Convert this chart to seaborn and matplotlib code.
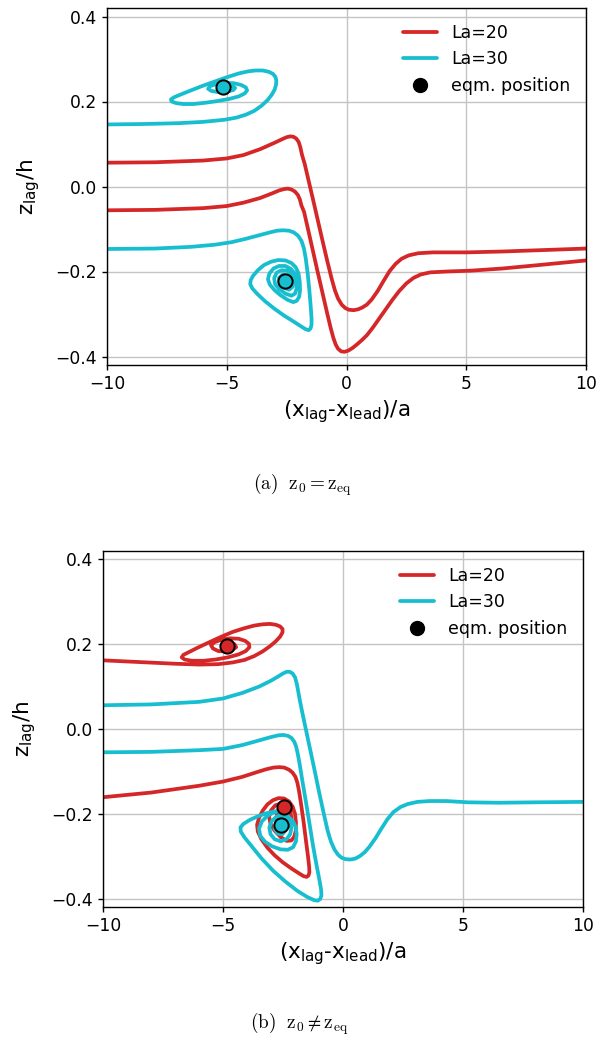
import numpy as np
import pandas as pd
import matplotlib
matplotlib.use("Agg")
import matplotlib.pyplot as plt
from matplotlib.lines import Line2D
import seaborn as sns

# ---------------- data ----------------
SERIES_LABELS = ["La=20", "La=30"]
EQM_LABEL = "eqm. position"
X_TICKS = [-10, -5, 0, 5, 10]
Y_TICKS = [-0.4, -0.2, 0.0, 0.2, 0.4]
CAPTIONS = [r"$\mathrm{(a)}\ \ \mathrm{z}_0=\mathrm{z}_{\mathrm{eq}}$",
            r"$\mathrm{(b)}\ \ \mathrm{z}_0\neq\mathrm{z}_{\mathrm{eq}}$"]

# panel (a)  La=20 trajectories
A_LA20_UPPER = [(-10, 0.056), (-8, 0.057), (-6, 0.061), (-5, 0.066), (-4.3, 0.074), (-3.6, 0.088),
                (-3.0, 0.103), (-2.7, 0.111), (-2.5, 0.116), (-2.35, 0.118), (-2.22, 0.117),
                (-2.1, 0.113), (-2.0, 0.105), (-1.93, 0.093), (-1.86, 0.075), (-1.74, 0.052),
                (-1.6, 0.018), (-1.4, -0.03), (-1.2, -0.079), (-1.0, -0.128), (-0.8, -0.176),
                (-0.62, -0.217), (-0.48, -0.245), (-0.35, -0.264), (-0.2, -0.278), (-0.05, -0.286),
                (0.1, -0.29), (0.3, -0.291), (0.48, -0.289), (0.65, -0.285), (0.85, -0.278),
                (1.05, -0.266), (1.3, -0.246), (1.55, -0.222), (1.8, -0.199), (2.05, -0.182),
                (2.3, -0.17), (2.6, -0.162), (3.0, -0.157), (3.6, -0.155), (5.0, -0.155),
                (6.5, -0.153), (8.0, -0.150), (10, -0.146)]
A_LA20_LOWER = [(-10, -0.056), (-8, -0.055), (-6, -0.051), (-5, -0.046), (-4.3, -0.038), (-3.6, -0.027),
                (-3.1, -0.016), (-2.8, -0.009), (-2.6, -0.006), (-2.45, -0.005), (-2.3, -0.007),
                (-2.15, -0.012), (-2.03, -0.02), (-1.95, -0.03), (-1.88, -0.045), (-1.77, -0.06),
                (-1.6, -0.102), (-1.4, -0.152), (-1.2, -0.202), (-1.0, -0.251), (-0.8, -0.3),
                (-0.66, -0.333), (-0.55, -0.356), (-0.45, -0.372), (-0.35, -0.382), (-0.22, -0.388),
                (-0.08, -0.389), (0.08, -0.386), (0.25, -0.38), (0.45, -0.371), (0.65, -0.361),
                (0.85, -0.35), (1.1, -0.332), (1.35, -0.312), (1.6, -0.292), (1.9, -0.268),
                (2.2, -0.246), (2.5, -0.228), (2.8, -0.215), (3.1, -0.207), (3.5, -0.202),
                (4.2, -0.2), (5.2, -0.198), (6.5, -0.193), (8.0, -0.185), (10, -0.174)]
# panel (a)  La=30 trajectories
A_LA30_UPPER = [(-10, 0.146), (-8.5, 0.147), (-7, 0.149), (-6, 0.152), (-5.1, 0.157), (-4.6, 0.162),
                (-4.2, 0.169), (-3.85, 0.178), (-3.55, 0.19), (-3.3, 0.203), (-3.12, 0.216),
                (-3.0, 0.228), (-2.94, 0.24), (-2.93, 0.25), (-2.97, 0.258), (-3.07, 0.265),
                (-3.25, 0.27), (-3.5, 0.273), (-3.8, 0.273), (-4.1, 0.271), (-4.5, 0.266),
                (-5.0, 0.257), (-5.5, 0.247), (-6.0, 0.237), (-6.5, 0.226), (-6.9, 0.217),
                (-7.2, 0.21), (-7.33, 0.205), (-7.3, 0.2), (-7.1, 0.196), (-6.8, 0.194),
                (-6.4, 0.194), (-5.9, 0.197), (-5.4, 0.201), (-4.9, 0.206), (-4.5, 0.212),
                (-4.25, 0.219), (-4.15, 0.226), (-4.2, 0.233), (-4.4, 0.239), (-4.7, 0.243),
                (-5.1, 0.244), (-5.45, 0.241), (-5.7, 0.236), (-5.78, 0.23), (-5.65, 0.225),
                (-5.35, 0.222), (-5.0, 0.223), (-4.72, 0.227), (-4.65, 0.232), (-4.8, 0.237),
                (-5.05, 0.238), (-5.3, 0.235), (-5.35, 0.231), (-5.2, 0.229), (-5.1, 0.232),
                (-5.15, 0.234)]
A_LA30_LOWER = [(-10, -0.147), (-8, -0.146), (-6.5, -0.142), (-5.5, -0.137), (-4.8, -0.131),
                (-4.2, -0.123), (-3.6, -0.114), (-3.2, -0.108), (-2.9, -0.104), (-2.65, -0.103),
                (-2.4, -0.104), (-2.2, -0.108), (-2.02, -0.116), (-1.88, -0.128), (-1.78, -0.145),
                (-1.7, -0.17), (-1.62, -0.205), (-1.55, -0.245), (-1.49, -0.285), (-1.46, -0.31),
                (-1.46, -0.325), (-1.5, -0.334), (-1.58, -0.338), (-1.7, -0.336), (-1.9, -0.329),
                (-2.2, -0.318), (-2.6, -0.304), (-3.0, -0.288), (-3.4, -0.27), (-3.72, -0.253),
                (-3.93, -0.24), (-4.02, -0.23), (-4.0, -0.22), (-3.9, -0.21), (-3.7, -0.197),
                (-3.45, -0.185), (-3.15, -0.177), (-2.85, -0.173), (-2.55, -0.174), (-2.3, -0.18),
                (-2.12, -0.19), (-2.0, -0.205), (-1.95, -0.225), (-1.94, -0.245), (-1.98, -0.26),
                (-2.08, -0.269), (-2.22, -0.272), (-2.45, -0.267), (-2.75, -0.256), (-3.0, -0.244),
                (-3.2, -0.231), (-3.28, -0.218), (-3.22, -0.205), (-3.05, -0.193), (-2.82, -0.187),
                (-2.55, -0.187), (-2.32, -0.194), (-2.15, -0.206), (-2.08, -0.222), (-2.08, -0.24),
                (-2.15, -0.252), (-2.3, -0.257), (-2.55, -0.252), (-2.8, -0.242), (-2.98, -0.23),
                (-3.02, -0.216), (-2.92, -0.203), (-2.72, -0.197), (-2.48, -0.198), (-2.3, -0.207),
                (-2.22, -0.222), (-2.25, -0.236), (-2.4, -0.243), (-2.62, -0.238), (-2.8, -0.228),
                (-2.82, -0.215), (-2.67, -0.207), (-2.45, -0.21), (-2.37, -0.222), (-2.45, -0.232),
                (-2.62, -0.23), (-2.65, -0.219), (-2.55, -0.215), (-2.5, -0.222), (-2.55, -0.223)]
A_EQM_LA30 = [(-5.15, 0.234), (-2.55, -0.223)]

# panel (b)  La=20 trajectories
B_LA20_UPPER = [(-10, 0.162), (-8.5, 0.158), (-7, 0.154), (-6, 0.152), (-5.2, 0.153), (-4.6, 0.157),
                (-4.1, 0.163), (-3.7, 0.172), (-3.35, 0.183), (-3.05, 0.195), (-2.8, 0.207),
                (-2.62, 0.218), (-2.52, 0.228), (-2.52, 0.236), (-2.62, 0.242), (-2.8, 0.246),
                (-3.05, 0.248), (-3.35, 0.247), (-3.7, 0.244), (-4.1, 0.238), (-4.6, 0.229),
                (-5.1, 0.217), (-5.6, 0.204), (-6.05, 0.192), (-6.4, 0.182), (-6.65, 0.175),
                (-6.72, 0.169), (-6.6, 0.164), (-6.3, 0.161), (-5.8, 0.161), (-5.3, 0.164),
                (-4.8, 0.169), (-4.35, 0.176), (-4.05, 0.184), (-3.9, 0.193), (-3.92, 0.201),
                (-4.08, 0.208), (-4.35, 0.213), (-4.7, 0.214), (-5.05, 0.211), (-5.35, 0.205),
                (-5.5, 0.198), (-5.42, 0.19), (-5.2, 0.184), (-4.9, 0.183), (-4.6, 0.187),
                (-4.45, 0.193), (-4.52, 0.2), (-4.75, 0.203), (-5.0, 0.2), (-5.05, 0.194),
                (-4.9, 0.192), (-4.82, 0.196)]
B_LA20_LOWER = [(-10, -0.161), (-8, -0.150), (-6, -0.134), (-5, -0.124), (-4.2, -0.113), (-3.6, -0.102),
                (-3.2, -0.095), (-2.9, -0.091), (-2.65, -0.09), (-2.45, -0.091), (-2.25, -0.096),
                (-2.1, -0.103), (-1.98, -0.113), (-1.9, -0.127), (-1.83, -0.147), (-1.74, -0.18),
                (-1.64, -0.22), (-1.54, -0.265), (-1.46, -0.3), (-1.41, -0.325), (-1.4, -0.338),
                (-1.44, -0.346), (-1.52, -0.349), (-1.65, -0.347), (-1.85, -0.34), (-2.15, -0.329),
                (-2.5, -0.315), (-2.85, -0.298), (-3.15, -0.28), (-3.4, -0.26), (-3.55, -0.242),
                (-3.58, -0.226), (-3.5, -0.21), (-3.35, -0.193), (-3.15, -0.178), (-2.92, -0.168),
                (-2.68, -0.163), (-2.45, -0.164), (-2.25, -0.171), (-2.1, -0.183), (-2.0, -0.2),
                (-1.96, -0.22), (-1.97, -0.24), (-2.03, -0.254), (-2.15, -0.263), (-2.35, -0.264),
                (-2.6, -0.255), (-2.85, -0.24), (-3.02, -0.224), (-3.08, -0.207), (-3.0, -0.192),
                (-2.82, -0.18), (-2.58, -0.176), (-2.35, -0.181), (-2.2, -0.193), (-2.15, -0.21),
                (-2.2, -0.226), (-2.35, -0.234), (-2.58, -0.228), (-2.75, -0.213), (-2.75, -0.197),
                (-2.6, -0.188), (-2.45, -0.19), (-2.38, -0.2), (-2.45, -0.21), (-2.58, -0.205),
                (-2.56, -0.193), (-2.44, -0.184)]
# panel (b)  La=30 trajectories
B_LA30_UPPER = [(-10, 0.056), (-8, 0.058), (-6, 0.064), (-5, 0.072), (-4.2, 0.085), (-3.5, 0.1),
                (-3.0, 0.114), (-2.7, 0.124), (-2.5, 0.131), (-2.35, 0.135), (-2.22, 0.135),
                (-2.1, 0.131), (-2.0, 0.122), (-1.93, 0.108), (-1.87, 0.09), (-1.8, 0.068),
                (-1.7, 0.04), (-1.55, 0.0), (-1.4, -0.04), (-1.2, -0.093), (-1.0, -0.148),
                (-0.8, -0.2), (-0.64, -0.24), (-0.5, -0.266), (-0.35, -0.285), (-0.2, -0.297),
                (-0.05, -0.304), (0.1, -0.307), (0.3, -0.308), (0.5, -0.306), (0.7, -0.3),
                (0.9, -0.291), (1.1, -0.278), (1.35, -0.258), (1.6, -0.235), (1.85, -0.213),
                (2.1, -0.196), (2.4, -0.184), (2.7, -0.177), (3.1, -0.172), (3.6, -0.17),
                (4.3, -0.17), (5.2, -0.173), (6.5, -0.174), (8.0, -0.173), (10, -0.172)]
B_LA30_LOWER = [(-10, -0.055), (-8, -0.054), (-6, -0.05), (-5, -0.047), (-4.2, -0.038), (-3.5, -0.027),
                (-3.0, -0.019), (-2.7, -0.015), (-2.5, -0.014), (-2.3, -0.016), (-2.15, -0.021),
                (-2.03, -0.03), (-1.95, -0.042), (-1.88, -0.06), (-1.8, -0.085), (-1.7, -0.12),
                (-1.55, -0.17), (-1.4, -0.222), (-1.25, -0.275), (-1.1, -0.322), (-0.98, -0.357),
                (-0.91, -0.38), (-0.9, -0.393), (-0.95, -0.401), (-1.05, -0.405), (-1.2, -0.404),
                (-1.5, -0.396), (-1.9, -0.382), (-2.4, -0.36), (-2.9, -0.335), (-3.4, -0.305),
                (-3.8, -0.277), (-4.1, -0.256), (-4.26, -0.242), (-4.27, -0.232), (-4.15, -0.224),
                (-3.9, -0.215), (-3.55, -0.206), (-3.2, -0.199), (-2.9, -0.195), (-2.72, -0.194),
                (-2.9, -0.197), (-3.15, -0.205), (-3.38, -0.218), (-3.5, -0.235), (-3.45, -0.252),
                (-3.25, -0.266), (-2.95, -0.277), (-2.6, -0.284), (-2.3, -0.285), (-2.08, -0.279),
                (-1.96, -0.265), (-1.93, -0.248), (-1.97, -0.232), (-2.08, -0.218), (-2.28, -0.207),
                (-2.52, -0.203), (-2.78, -0.207), (-2.98, -0.218), (-3.07, -0.233), (-3.02, -0.248),
                (-2.85, -0.26), (-2.6, -0.265), (-2.35, -0.26), (-2.2, -0.248), (-2.15, -0.233),
                (-2.22, -0.219), (-2.4, -0.211), (-2.62, -0.212), (-2.8, -0.222), (-2.85, -0.236),
                (-2.73, -0.247), (-2.52, -0.248), (-2.38, -0.238), (-2.4, -0.224), (-2.55, -0.218),
                (-2.7, -0.226), (-2.65, -0.236), (-2.55, -0.232), (-2.58, -0.226)]
B_EQM_LA20 = [(-4.82, 0.196), (-2.44, -0.184)]
B_EQM_LA30 = [(-2.58, -0.226)]

# ---------------- style ----------------
RED = "#d62728"
CYAN = "#17becf"

sns.set_theme(style="ticks", rc={"axes.edgecolor": "black", "xtick.color": "black",
                                 "ytick.color": "black", "axes.linewidth": 1.0,
                                 "text.color": "black", "axes.labelcolor": "black"})
plt.rcParams["font.family"] = ["DejaVu Sans"]
plt.rcParams["axes.unicode_minus"] = True

fig = plt.figure(figsize=(5.96, 10.38), dpi=100)
W, H = 596.0, 1038.0
ax_a = fig.add_axes([107 / W, 1 - 365 / H, 479 / W, 357 / H])
ax_b = fig.add_axes([103 / W, 1 - 907 / H, 480 / W, 356 / H])


def draw_traj(ax, pts, color):
    df = pd.DataFrame(pts, columns=["x", "y"])
    sns.lineplot(data=df, x="x", y="y", sort=False, estimator=None, color=color,
                 lw=2.7, ax=ax, legend=False, solid_capstyle="round",
                 solid_joinstyle="round")


def draw_eqm(ax, pts, color):
    df = pd.DataFrame(pts, columns=["x", "y"])
    sns.scatterplot(data=df, x="x", y="y", color=color, s=105, edgecolor="black",
                    linewidth=1.4, ax=ax, zorder=5, legend=False)


def style_axes(ax):
    ax.set_xlim(-10, 10)
    ax.set_ylim(-0.42, 0.42)
    ax.set_xticks(X_TICKS)
    ax.set_yticks(Y_TICKS)
    ax.set_xticklabels([f"{t:d}".replace("-", "\u2212") for t in X_TICKS])
    ax.set_yticklabels([f"{t:.1f}".replace("-", "\u2212") for t in Y_TICKS])
    ax.grid(True, color="#c4c4c4", lw=1.0)
    ax.set_axisbelow(True)
    ax.tick_params(labelsize=12.3, length=3.5, width=1.0, direction="out",
                   labelcolor="black")
    ax.set_xlabel(r"(x$_\mathregular{lag}$-x$_\mathregular{lead}$)/a", fontsize=15.5,
                  color="black")
    ax.set_ylabel(r"z$_\mathregular{lag}$/h", fontsize=15.5, labelpad=10, color="black")
    for s in ax.spines.values():
        s.set_visible(True)
        s.set_color("black")
    handles = [Line2D([], [], color=RED, lw=2.7),
               Line2D([], [], color=CYAN, lw=2.7),
               Line2D([], [], ls="", marker="o", markersize=10, color="black")]
    leg = ax.legend(handles, SERIES_LABELS + [EQM_LABEL], loc="upper right", frameon=False,
                    fontsize=12.5)
    for t in leg.get_texts():
        t.set_color("black")


# panel (a)
draw_traj(ax_a, A_LA20_UPPER, RED)
draw_traj(ax_a, A_LA20_LOWER, RED)
draw_traj(ax_a, A_LA30_UPPER, CYAN)
draw_traj(ax_a, A_LA30_LOWER, CYAN)
draw_eqm(ax_a, A_EQM_LA30, CYAN)
style_axes(ax_a)

# panel (b)
draw_traj(ax_b, B_LA20_UPPER, RED)
draw_traj(ax_b, B_LA20_LOWER, RED)
draw_traj(ax_b, B_LA30_UPPER, CYAN)
draw_traj(ax_b, B_LA30_LOWER, CYAN)
draw_eqm(ax_b, B_EQM_LA20, RED)
draw_eqm(ax_b, B_EQM_LA30, CYAN)
style_axes(ax_b)

fig.text(303 / W, 1 - 490 / H, CAPTIONS[0], ha="center", va="baseline", fontsize=13.8,
         math_fontfamily="cm", color="black")
fig.text(299 / W, 1 - 1029 / H, CAPTIONS[1], ha="center", va="baseline", fontsize=13.8,
         math_fontfamily="cm", color="black")

fig.savefig("out.png", dpi=100)
